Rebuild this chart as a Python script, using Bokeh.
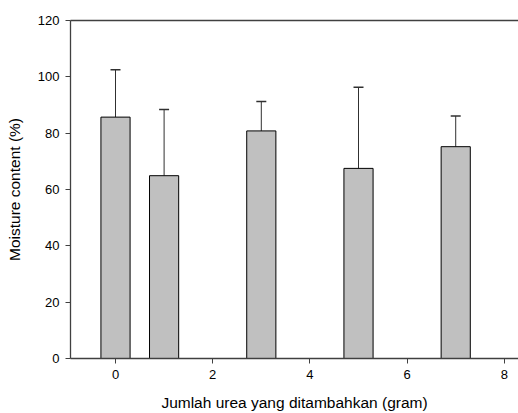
from bokeh.plotting import figure
from bokeh.models import Range1d, LinearAxis, FixedTicker, ColumnDataSource, Whisker, TeeHead
from bokeh.embed import file_html
from bokeh.resources import INLINE

# Data
urea = [0, 1, 3, 5, 7]
moisture = [85.7, 64.9, 80.8, 67.5, 75.2]
sd = [16.8, 23.5, 10.4, 28.8, 10.9]
x_ticks = [0, 2, 4, 6, 8]
y_ticks = [0, 20, 40, 60, 80, 100, 120]

upper = [m + s for m, s in zip(moisture, sd)]
src = ColumnDataSource(dict(x=urea, top=moisture, upper=upper))

FONT = "Liberation Sans"
AXIS_COLOR = "#404040"

p = figure(width=518, height=413, output_backend="svg", toolbar_location=None,
           x_range=Range1d(-0.926, 8.292), y_range=Range1d(0, 120),
           min_border_left=70, min_border_top=20, min_border_right=0, min_border_bottom=54)
p.outline_line_color = None
p.xgrid.visible = False
p.ygrid.visible = False

p.vbar(x="x", top="top", bottom=0, width=0.6, source=src,
       fill_color="#c0c0c0", line_color="black", line_width=1)

w = Whisker(source=src, base="x", lower="top", upper="upper", dimension="height",
            line_color="#303030", line_width=1,
            upper_head=TeeHead(size=10, line_color="#303030", line_width=1.5),
            lower_head=None)
p.add_layout(w)

for ax in (p.xaxis[0], p.yaxis[0]):
    ax.axis_line_color = AXIS_COLOR
    ax.axis_line_width = 1.3
    ax.major_tick_line_color = AXIS_COLOR
    ax.major_tick_in = 0
    ax.major_tick_out = 5
    ax.minor_tick_line_color = None
    ax.major_label_text_font = FONT
    ax.major_label_text_font_size = "13px"
    ax.major_label_text_color = "black"
    ax.axis_label_text_font = FONT
    ax.axis_label_text_font_size = "15.5px"
    ax.axis_label_text_font_style = "normal"
    ax.axis_label_text_color = "black"

p.xaxis[0].ticker = FixedTicker(ticks=x_ticks)
p.yaxis[0].ticker = FixedTicker(ticks=y_ticks)
p.xaxis[0].axis_label = "Jumlah urea yang ditambahkan (gram)"
p.yaxis[0].axis_label = "Moisture content (%)"
p.xaxis[0].major_label_standoff = 6
p.xaxis[0].axis_label_standoff = 12
p.yaxis[0].major_label_standoff = 6
p.yaxis[0].axis_label_standoff = 12

top_ax = LinearAxis(ticker=FixedTicker(ticks=[]), axis_line_color=AXIS_COLOR, axis_line_width=1.3,
                    major_tick_line_color=None, minor_tick_line_color=None,
                    major_label_text_font_size="0px")
p.add_layout(top_ax, "above")

open("out.html", "w").write(file_html(p, INLINE))
